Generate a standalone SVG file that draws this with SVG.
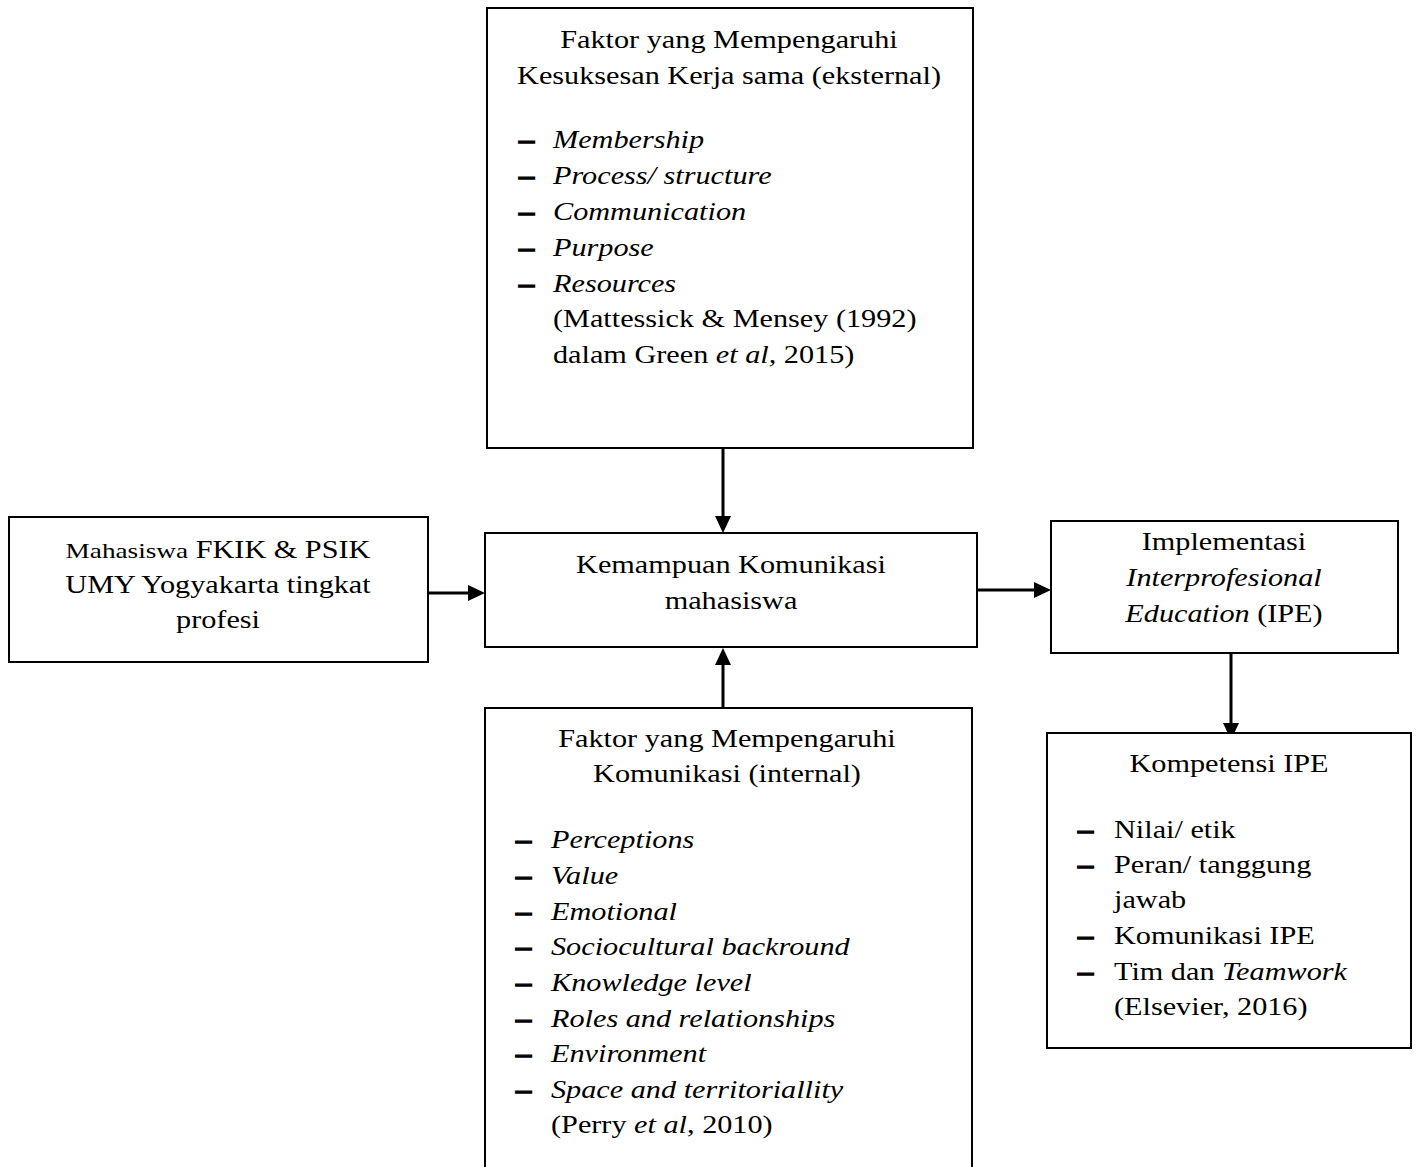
<svg xmlns="http://www.w3.org/2000/svg" width="1419" height="1167" viewBox="0 0 1419 1167">
<style>
.box{fill:#fff;stroke:#000;stroke-width:2}
.t{font-family:"Liberation Serif","Times New Roman",serif;font-size:24.2px;fill:#000}
.c{text-anchor:middle}
.i{font-style:italic}
.d{font-weight:bold;stroke:#000;stroke-width:1.3}
.conn{stroke:#000;stroke-width:3;fill:none}
</style>
<defs>
<marker id="ah" markerUnits="userSpaceOnUse" markerWidth="18" markerHeight="18" refX="0" refY="8" orient="auto">
<path d="M0,0 L17,8 L0,16 z" fill="#000"/>
</marker>
</defs>
<rect width="1419" height="1167" fill="#fff"/>

<g id="connectors">
<line class="conn" x1="723" y1="449" x2="723" y2="516" marker-end="url(#ah)"/>
<line class="conn" x1="429" y1="593" x2="468" y2="593" marker-end="url(#ah)"/>
<line class="conn" x1="723" y1="708" x2="723" y2="665" marker-end="url(#ah)"/>
<line class="conn" x1="978" y1="590" x2="1034" y2="590" marker-end="url(#ah)"/>
<line class="conn" x1="1231" y1="644" x2="1231" y2="723" marker-end="url(#ah)"/>
</g>

<g id="node-external">
<rect class="box" x="487" y="8" width="486" height="440"/>
<text class="t c" transform="translate(729,48) scale(1.25,1)">Faktor yang Mempengaruhi</text>
<text class="t c" transform="translate(729,84) scale(1.25,1)">Kesuksesan Kerja sama (eksternal)</text>
<text class="t d" transform="translate(519,148) scale(1.25,1)">–</text>
<text class="t i" transform="translate(553,148) scale(1.25,1)">Membership</text>
<text class="t d" transform="translate(519,184) scale(1.25,1)">–</text>
<text class="t i" transform="translate(553,184) scale(1.25,1)">Process/ structure</text>
<text class="t d" transform="translate(519,220) scale(1.25,1)">–</text>
<text class="t i" transform="translate(553,220) scale(1.25,1)">Communication</text>
<text class="t d" transform="translate(519,256) scale(1.25,1)">–</text>
<text class="t i" transform="translate(553,256) scale(1.25,1)">Purpose</text>
<text class="t d" transform="translate(519,292) scale(1.25,1)">–</text>
<text class="t i" transform="translate(553,292) scale(1.25,1)">Resources</text>
<text class="t" transform="translate(553,327) scale(1.25,1)">(Mattessick &amp; Mensey (1992)</text>
<text class="t" transform="translate(553,363) scale(1.25,1)">dalam Green <tspan class="i">et al,</tspan> 2015)</text>
</g>

<g id="node-mahasiswa">
<rect class="box" x="9" y="517" width="419" height="145"/>
<text class="t c" transform="translate(218,558) scale(1.25,1)"><tspan style="font-size:21.8px">Mahasiswa</tspan>  FKIK &amp; PSIK</text>
<text class="t c" transform="translate(218,593) scale(1.25,1)">UMY Yogyakarta tingkat</text>
<text class="t c" transform="translate(218,628) scale(1.25,1)">profesi</text>
</g>

<g id="node-kemampuan">
<rect class="box" x="485" y="533" width="492" height="114"/>
<text class="t c" transform="translate(731,573) scale(1.25,1)">Kemampuan Komunikasi</text>
<text class="t c" transform="translate(731,609) scale(1.25,1)">mahasiswa</text>
</g>

<g id="node-implementasi">
<rect class="box" x="1051" y="521" width="347" height="132"/>
<text class="t c" transform="translate(1224,550) scale(1.25,1)">Implementasi</text>
<text class="t c i" transform="translate(1224,586) scale(1.25,1)">Interprofesional</text>
<text class="t c" transform="translate(1224,622) scale(1.25,1)"><tspan class="i">Education</tspan> (IPE)</text>
</g>

<g id="node-kompetensi">
<rect class="box" x="1047" y="733" width="364" height="315"/>
<text class="t c" transform="translate(1229,772) scale(1.25,1)">Kompetensi IPE</text>
<text class="t d" transform="translate(1078,838) scale(1.25,1)">–</text>
<text class="t" transform="translate(1114,838) scale(1.25,1)">Nilai/ etik</text>
<text class="t d" transform="translate(1078,873) scale(1.25,1)">–</text>
<text class="t" transform="translate(1114,873) scale(1.25,1)">Peran/ tanggung</text>
<text class="t" transform="translate(1114,908) scale(1.25,1)">jawab</text>
<text class="t d" transform="translate(1078,944) scale(1.25,1)">–</text>
<text class="t" transform="translate(1114,944) scale(1.25,1)">Komunikasi IPE</text>
<text class="t d" transform="translate(1078,980) scale(1.25,1)">–</text>
<text class="t" transform="translate(1114,980) scale(1.25,1)">Tim dan <tspan class="i">Teamwork</tspan></text>
<text class="t" transform="translate(1114,1015) scale(1.25,1)">(Elsevier, 2016)</text>
</g>

<g id="node-internal">
<path class="box" d="M485,1170 V708 H972 V1170"/>
<text class="t c" transform="translate(727,747) scale(1.25,1)">Faktor yang Mempengaruhi</text>
<text class="t c" transform="translate(727,782) scale(1.25,1)">Komunikasi (internal)</text>
<text class="t d" transform="translate(516,848) scale(1.25,1)">–</text>
<text class="t i" transform="translate(551,848) scale(1.25,1)">Perceptions</text>
<text class="t d" transform="translate(516,884) scale(1.25,1)">–</text>
<text class="t i" transform="translate(551,884) scale(1.25,1)">Value</text>
<text class="t d" transform="translate(516,920) scale(1.25,1)">–</text>
<text class="t i" transform="translate(551,920) scale(1.25,1)">Emotional</text>
<text class="t d" transform="translate(516,955) scale(1.25,1)">–</text>
<text class="t i" transform="translate(551,955) scale(1.25,1)">Sociocultural backround</text>
<text class="t d" transform="translate(516,991) scale(1.25,1)">–</text>
<text class="t i" transform="translate(551,991) scale(1.25,1)">Knowledge level</text>
<text class="t d" transform="translate(516,1027) scale(1.25,1)">–</text>
<text class="t i" transform="translate(551,1027) scale(1.25,1)">Roles and relationships</text>
<text class="t d" transform="translate(516,1062) scale(1.25,1)">–</text>
<text class="t i" transform="translate(551,1062) scale(1.25,1)">Environment</text>
<text class="t d" transform="translate(516,1098) scale(1.25,1)">–</text>
<text class="t i" transform="translate(551,1098) scale(1.25,1)">Space and territoriallity</text>
<text class="t" transform="translate(551,1133) scale(1.25,1)">(Perry <tspan class="i">et al</tspan>, 2010)</text>
</g>
</svg>
